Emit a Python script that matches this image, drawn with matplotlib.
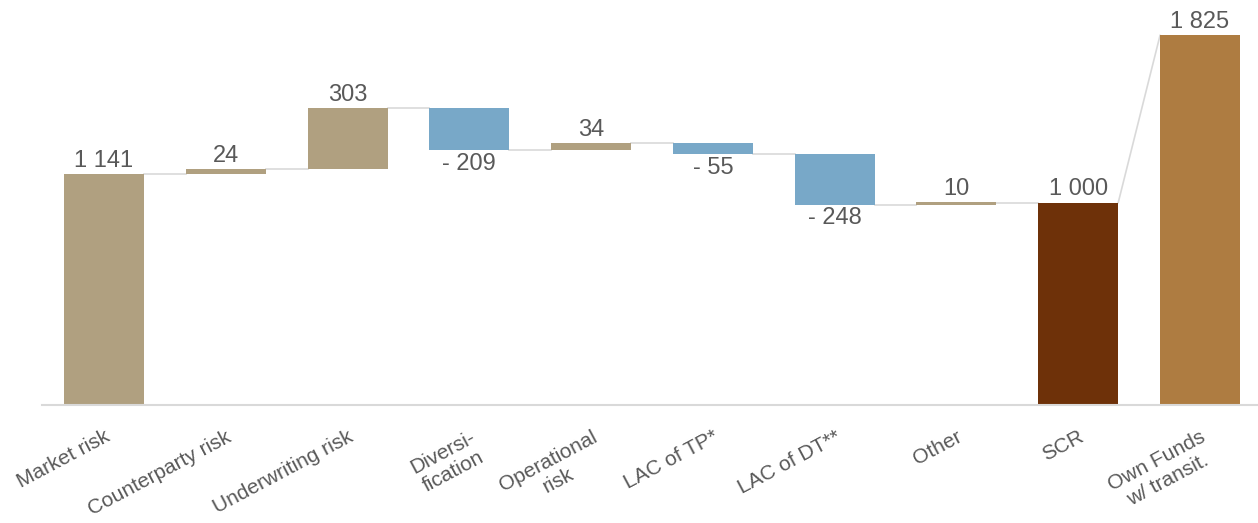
import matplotlib.pyplot as plt

plt.rcParams['font.family'] = ['Liberation Sans', 'DejaVu Sans']

categories = ["Market risk", "Counterparty risk", "Underwriting risk", "Diversi-\nfication",
              "Operational\nrisk", "LAC of TP*", "LAC of DT**", "Other", "SCR",
              "Own Funds\nw/ transit."]
steps = [1141, 24, 303, -209, 34, -55, -248, 10]
scr = 1000
own_funds = 1825

TAN = "#B0A080"
BLUE = "#78A8C8"
SCR_COL = "#6E3109"
OF_COL = "#AE7C41"
TXT = "#595959"
LINE = "#D9D9D9"


def fmt(v):
    s = f"{abs(v):,}".replace(",", " ")
    return s if v >= 0 else "- " + s


fig = plt.figure(figsize=(12.58, 5.23), dpi=100)
ax = fig.add_axes([42 / 1258, 118 / 523, 1 - 42 / 1258, 1 - 118 / 523])
width = 0.657

# running totals for the waterfall
bottoms, tops = [], []
total = 0
for v in steps:
    start = total
    total += v
    bottoms.append(min(start, total))
    tops.append(max(start, total))

for i, v in enumerate(steps):
    color = TAN if v >= 0 else BLUE
    ax.bar(i, tops[i] - bottoms[i], bottom=bottoms[i], width=width, color=color)
    if v >= 0:
        ax.text(i, tops[i] + 10, fmt(v), ha="center", va="bottom", fontsize=17, color=TXT)
    else:
        ax.text(i, bottoms[i] - 14, fmt(v), ha="center", va="top", fontsize=17, color=TXT)

n = len(steps)
ax.bar(n, scr, width=width, color=SCR_COL)
ax.text(n, scr + 10, fmt(scr), ha="center", va="bottom", fontsize=17, color=TXT)
ax.bar(n + 1, own_funds, width=width, color=OF_COL)
ax.text(n + 1, own_funds + 10, fmt(own_funds), ha="center", va="bottom", fontsize=17, color=TXT)

# connectors
levels = []
total = 0
for v in steps:
    total += v
    levels.append(total)
for i in range(n):
    ax.plot([i + width / 2, i + 1 - width / 2], [levels[i], levels[i]], color=LINE, lw=1.2, zorder=0)
ax.plot([n + width / 2, n + 1 - width / 2], [scr, own_funds], color=LINE, lw=1.2, zorder=0)

ax.set_xlim(-0.509, 9.476)
ax.set_ylim(0, 2000)
ax.set_yticks([])
ax.set_xticks(range(len(categories)))
ax.set_xticklabels(categories, rotation=28, ha="right", rotation_mode="anchor",
                   fontsize=15, color=TXT, multialignment="center")
ax.tick_params(axis="x", length=0, pad=16)
for s in ["top", "right", "left"]:
    ax.spines[s].set_visible(False)
ax.spines["bottom"].set_color(LINE)
ax.spines["bottom"].set_linewidth(1.5)

fig.savefig("out.png", dpi=100)
